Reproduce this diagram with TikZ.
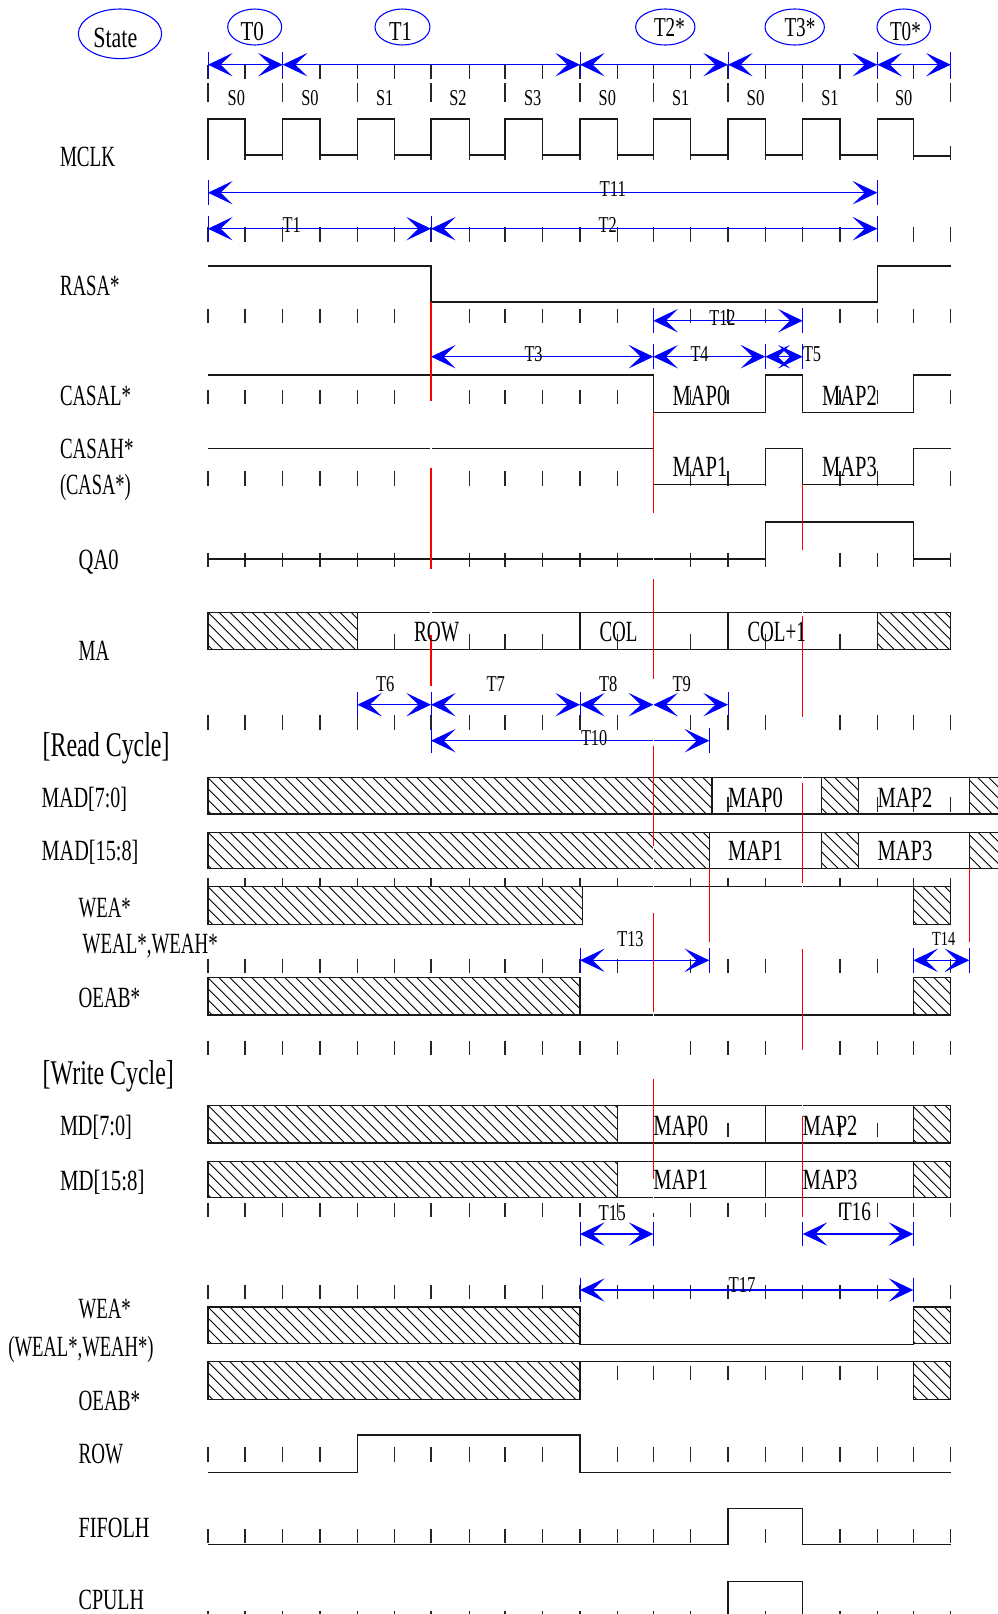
\documentclass[tikz,border=0pt]{standalone}
\usepackage{fontspec}
\setmainfont{Liberation Serif}
\usetikzlibrary{arrows.meta,shapes.geometric}
\newcounter{tn}
\newcommand\tx[5]{\stepcounter{tn}\node[anchor=base west,inner sep=0pt,outer sep=0pt] (txt\arabic{tn}) at (#3,#4) {\scalebox{#2}[1]{\fontsize{#1pt}{#1pt}\selectfont #5}};}
\newcommand\ticks[2]{\foreach \x in {208,245,282.7,320,357.3,394.7,431,469.3,505,542.7,580,617.3,653.3,690.7,728,765.3,802.7,840,877.3,913.3,950.7} \draw[tickline] (\x,#1) -- (\x,#2);}
\newcommand\hatchbox[4]{\fill[white] (#1,#2) rectangle (#3,#4);
  \begin{scope}\clip (#1,#2) rectangle (#3,#4);
  \foreach \k in {164,175,...,1000} \draw[hatchline] (\k,#2) -- (\k+#4-#2,#4);
  \end{scope}
  \draw[sig] (#1,#2) rectangle (#3,#4);}
\newcommand\dimarr[3]{\draw[dimbar] (#1 |- 0,#3-12.3) -- (#1 |- 0,#3+12.3);
  \draw[dimbar] (#2 |- 0,#3-12.3) -- (#2 |- 0,#3+12.3);
  \draw[dimline] (#1 |- 0,#3) -- (#2 |- 0,#3);}
\newcommand\redwhite[4]{\draw[gapline] (#1,#2) -- (#1,#3); \draw[redline] (#1,#3) -- (#1,#4);}
\tikzset{
  tickline/.style={black!85,line width=.8pt},
  hatchline/.style={black,line width=.65pt},
  sig/.style={black!90,line width=.85pt},
  dimbar/.style={blue,line width=.75pt},
  dimline/.style={blue,line width=.8pt,{Stealth[length=18.5pt,width=17.6pt,inset=9pt]}-{Stealth[length=18.5pt,width=17.6pt,inset=9pt]}},
  gapline/.style={white,line width=.8pt},
  redline/.style={red,line width=.8pt},
  stateell/.style={ellipse,draw=blue,line width=.8pt,inner sep=0pt},
}
\begin{document}
\begin{tikzpicture}[x=.75pt,y=-.75pt]
\useasboundingbox (0,0) rectangle (998,1614);
\clip (0,0) rectangle (998,1614);
\fill[white] (0,0) rectangle (998,1614);
% columns
\foreach \n/\x in {0/208,1/245,2/282.7,3/320,4/357.3,5/394.7,6/431,7/469.3,8/505,9/542.7,10/580,11/617.3,12/653.3,13/690.7,14/728,15/765.3,16/802.7,17/840,18/877.3,19/913.3,20/950.7}
  \coordinate (c\n) at (\x,0);
\coordinate (ca) at (709.3,0);
\coordinate (cb) at (969.3,0);
% tick rows
\ticks{65}{79}
\foreach \x in {208,282.7,357.3,431,505,580,653.3,728,802.7,877.3,950.7} \draw[tickline] (\x,83) -- (\x,102);
\ticks{146}{160}
\ticks{227}{241.7}
\ticks{309}{323}
\ticks{390}{404}
\ticks{471}{486}
\ticks{552.7}{566.7}
\ticks{634}{648.7}
\ticks{715}{729.7}
\ticks{797}{811.5}
\ticks{878.3}{886.7}
\ticks{959.3}{973.3}
\ticks{1040.7}{1055}
\ticks{1122.7}{1136.7}
\ticks{1203.3}{1217}
\ticks{1285}{1299}
\foreach \x in {617.3,653.3,690.7,728,765.3,802.7,840,877.3} \draw[tickline] (\x,1365.7) -- (\x,1380);
\ticks{1447.3}{1461.7}
\ticks{1529}{1543}
\ticks{1610.5}{1625}
% ellipses
\node[stateell,minimum width=62.5pt,minimum height=37.2pt] (eState) at (120,33.8) {};
\node[stateell,minimum width=40.5pt,minimum height=27pt] (eT0) at (254.7,27) {};
\node[stateell,minimum width=41.2pt,minimum height=27pt] (eT1) at (402.5,27) {};
\node[stateell,minimum width=44.5pt,minimum height=27pt] (eT2) at (665.3,27) {};
\node[stateell,minimum width=44.5pt,minimum height=27pt] (eT3) at (794.7,27) {};
\node[stateell,minimum width=40.2pt,minimum height=27pt] (eT0s) at (903.8,27) {};
% MCLK
\draw[sig] (208,160) -- (208,119) -- (245,119) -- (245,155) -- (282.7,155) -- (282.7,119) -- (320,119) -- (320,155) -- (357.3,155) -- (357.3,119) -- (394.7,119) -- (394.7,155) -- (431,155) -- (431,119) -- (469.3,119) -- (469.3,155) -- (505,155) -- (505,119) -- (542.7,119) -- (542.7,155) -- (580,155) -- (580,119) -- (617.3,119) -- (617.3,155) -- (653.3,155) -- (653.3,119) -- (690.7,119) -- (690.7,155) -- (728,155) -- (728,119) -- (765.3,119) -- (765.3,155) -- (802.7,155) -- (802.7,119) -- (840,119) -- (840,155) -- (877.3,155) -- (877.3,119) -- (913.3,119) -- (913.3,156) -- (950.7,156);
% RASA
\draw[sig] (208,266) -- (431,266) -- (431,302) -- (877.3,302) -- (877.3,266) -- (950.7,266);
% CASAL
\draw[sig] (208,375) -- (653.3,375) -- (653.3,412.3) -- (765.3,412.3) -- (765.3,375) -- (802.7,375) -- (802.7,412.3) -- (913.3,412.3) -- (913.3,375) -- (950.7,375);
% CASAH
\draw[sig] (208,448.3) -- (653.3,448.3) -- (653.3,484.7) -- (765.3,484.7) -- (765.3,448.3) -- (802.7,448.3) -- (802.7,484.7) -- (913.3,484.7) -- (913.3,448.3) -- (950.7,448.3);
% QA0
\draw[sig] (208,559) -- (765.3,559) -- (765.3,522) -- (913.3,522) -- (913.3,559) -- (950.7,559);
% MA
\hatchbox{208}{612.3}{357.3}{649.7}
\draw[sig] (357.3,612.3) rectangle (580,649.7);
\draw[sig] (580,612.3) rectangle (728,649.7);
\draw[sig] (728,612.3) rectangle (877.3,649.7);
\hatchbox{877.3}{612.3}{950.7}{649.7}
% MAD 7:0
\hatchbox{208}{777.7}{712}{814}
\draw[sig] (712,777.7) rectangle (821.3,814);
\hatchbox{821.3}{777.7}{858.7}{814}
\draw[sig] (858.7,777.7) rectangle (969.3,814);
\hatchbox{969.3}{777.7}{1005}{814}
% MAD 15:8
\hatchbox{208}{832.3}{709.3}{868.7}
\draw[sig] (709.3,832.3) rectangle (821.3,868.7);
\hatchbox{821.3}{832.3}{858.7}{868.7}
\draw[sig] (858.7,832.3) rectangle (969.3,868.7);
\hatchbox{969.3}{832.3}{1005}{868.7}
% WEA read
\hatchbox{208}{886.7}{582.3}{924.7}
\draw[sig] (582.3,886.7) -- (913.3,886.7);
\hatchbox{913.3}{886.7}{950.7}{924.7}
% OEAB read
\hatchbox{208}{977.7}{580}{1015}
\draw[sig] (580,1015) -- (913.3,1015);
\hatchbox{913.3}{977.7}{950.7}{1015}
% MD 7:0
\hatchbox{208}{1105.3}{617.3}{1143}
\draw[sig] (617.3,1105.3) rectangle (765.3,1143);
\draw[sig] (765.3,1105.3) rectangle (913.3,1143);
\hatchbox{913.3}{1105.3}{950.7}{1143}
% MD 15:8
\hatchbox{208}{1161.7}{617.3}{1197.7}
\draw[sig] (617.3,1161.7) rectangle (765.3,1197.7);
\draw[sig] (765.3,1161.7) rectangle (913.3,1197.7);
\hatchbox{913.3}{1161.7}{950.7}{1197.7}
% WEA write
\hatchbox{208}{1307}{580}{1343.7}
\draw[sig] (580,1343.7) -- (580,1344.7) -- (913.3,1344.7) -- (913.3,1343.7);
\hatchbox{913.3}{1307}{950.7}{1343.7}
% OEAB write
\hatchbox{208}{1361.7}{580}{1399.3}
\draw[sig] (580,1361.7) -- (913.3,1361.7);
\hatchbox{913.3}{1361.7}{950.7}{1399.3}
% ROW, FIFOLH, CPULH
\draw[sig] (208,1472.7) -- (357.3,1472.7) -- (357.3,1435) -- (580,1435) -- (580,1472.7) -- (950.7,1472.7);
\draw[sig] (208,1544.7) -- (728,1544.7) -- (728,1508.7) -- (802.7,1508.7) -- (802.7,1544.7) -- (950.7,1544.7);
\draw[sig] (728,1620) -- (728,1581.7) -- (802.7,1581.7) -- (802.7,1620);
% dimension arrows
\dimarr{c0}{c2}{64.7}
\dimarr{c2}{c10}{64.7}
\dimarr{c10}{c14}{64.7}
\dimarr{c14}{c18}{64.7}
\dimarr{c18}{c20}{64.7}
\dimarr{c0}{c18}{192.7}
\dimarr{c0}{c6}{228.7}
\dimarr{c6}{c18}{228.7}
\dimarr{c12}{c16}{320.7}
\draw[dimline] (c6 |- 0,356.7) -- (c12 |- 0,356.7);
\dimarr{c12}{c15}{356.7}
\dimarr{c15}{c16}{356.7}
\dimarr{c4}{c6}{704.7}
\dimarr{c6}{c10}{704.7}
\dimarr{c10}{c12}{704.7}
\dimarr{c12}{c14}{704.7}
\dimarr{c6}{ca}{740.7}
\dimarr{c10}{ca}{960.3}
\dimarr{c19}{cb}{960.3}
\dimarr{c10}{c12}{1234}
\dimarr{c16}{c19}{1234}
\dimarr{c10}{c19}{1290}
% red and gap segments
\draw[redline] (431,302) -- (431,401);
\redwhite{431}{401}{468}{569}
\redwhite{431}{569}{635}{686}
\draw[redline] (653.3,412) -- (653.3,513);
\redwhite{653.3}{513}{579}{679}
\redwhite{653.3}{679}{745.7}{846}
\redwhite{653.3}{846}{912.7}{1012}
\redwhite{653.3}{1012}{1079.3}{1179}
\draw[gapline] (653.3,1179) -- (653.3,1213);
\draw[redline] (802.7,484.3) -- (802.7,550);
\redwhite{802.7}{550}{616}{716.7}
\redwhite{802.7}{716.7}{782.7}{883.3}
\redwhite{802.7}{883.3}{949.3}{1050}
\redwhite{802.7}{1050}{1116}{1217}
\draw[redline] (709.3,868.3) -- (709.3,942.3);
\draw[redline] (969.3,868.3) -- (969.3,942.3);
% texts
\tx{22}{.75}{93.3}{47.5}{State}
\tx{20.5}{.77}{240.5}{40.7}{T0}
\tx{20.5}{.75}{389}{40.7}{T1}
\tx{20.5}{.7}{654}{36.7}{T2*}
\tx{20.5}{.7}{784.5}{36.7}{T3*}
\tx{20.5}{.7}{890}{40.7}{T0*}
\tx{17}{.72}{227.7}{105}{S0}
\tx{17}{.72}{301.3}{105}{S0}
\tx{17}{.72}{376}{105}{S1}
\tx{17}{.72}{449.3}{105}{S2}
\tx{17}{.72}{524}{105}{S3}
\tx{17}{.72}{598.7}{105}{S0}
\tx{17}{.72}{672}{105}{S1}
\tx{17}{.75}{746.7}{105}{S0}
\tx{17}{.72}{821.3}{105}{S1}
\tx{17}{.72}{895}{105}{S0}
\tx{22}{.65}{60}{166.7}{MCLK}
\tx{17}{.74}{599.5}{196.7}{T11}
\tx{17}{.72}{282.7}{232.7}{T1}
\tx{17}{.72}{598.7}{232.7}{T2}
\tx{22}{.64}{60}{295}{RASA*}
\tx{17}{.72}{709.3}{325}{T12}
\tx{17}{.72}{524.5}{361}{T3}
\tx{17}{.72}{690.5}{361}{T4}
\tx{17}{.72}{803}{361}{T5}
\tx{22}{.64}{60}{405}{CASAL*}
\tx{22}{.7}{672.5}{405}{MAP0}
\tx{22}{.7}{822}{405}{MAP2}
\tx{22}{.645}{60}{458.5}{CASAH*}
\tx{22}{.63}{60}{494.5}{(CASA*)}
\tx{22}{.7}{672.5}{476.7}{MAP1}
\tx{22}{.7}{822}{476.7}{MAP3}
\tx{22}{.7}{78.7}{569}{QA0}
\tx{22}{.65}{78.7}{660.7}{MA}
\tx{22}{.66}{414}{641.7}{ROW}
\tx{22}{.65}{599.5}{641.7}{COL}
\tx{22}{.65}{747.5}{641.7}{COL+1}
\tx{17}{.73}{376}{691.7}{T6}
\tx{17}{.73}{486.5}{691.7}{T7}
\tx{17}{.73}{599}{691.7}{T8}
\tx{17}{.73}{672.5}{691.7}{T9}
\tx{26}{.69}{42.7}{756}{[Read Cycle]}
\tx{17}{.72}{581}{745}{T10}
\tx{22}{.68}{41.7}{807}{MAD[7:0]}
\tx{22}{.7}{728}{807}{MAP0}
\tx{22}{.7}{877.5}{807}{MAP2}
\tx{22}{.69}{41.7}{860}{MAD[15:8]}
\tx{22}{.7}{728}{860.7}{MAP1}
\tx{22}{.7}{877.5}{860.7}{MAP3}
\tx{22}{.64}{78.7}{917.5}{WEA*}
\tx{22}{.645}{82.7}{953}{WEAL*,WEAH*}
\tx{22}{.65}{78.7}{1007.5}{OEAB*}
\tx{17}{.72}{617.3}{946.7}{T13}
\tx{15}{.72}{932}{945}{T14}
\tx{26}{.69}{42.7}{1084}{[Write Cycle]}
\tx{22}{.69}{60}{1135}{MD[7:0]}
\tx{22}{.7}{653.3}{1135}{MAP0}
\tx{22}{.7}{802.7}{1135}{MAP2}
\tx{22}{.71}{60}{1190}{MD[15:8]}
\tx{22}{.7}{653.3}{1189.3}{MAP1}
\tx{22}{.7}{802.7}{1189.3}{MAP3}
\tx{17}{.74}{598.7}{1220}{T15}
\tx{20}{.72}{840}{1220}{T16}
\tx{17}{.74}{728.5}{1292.7}{T17}
\tx{22}{.64}{78.7}{1318}{WEA*}
\tx{22}{.635}{8.3}{1356}{(WEAL*,WEAH*)}
\tx{22}{.65}{78.7}{1410}{OEAB*}
\tx{22}{.65}{78.7}{1463}{ROW}
\tx{22}{.69}{78.7}{1537}{FIFOLH}
\tx{22}{.68}{78.7}{1609.3}{CPULH}
\end{tikzpicture}
\end{document}
